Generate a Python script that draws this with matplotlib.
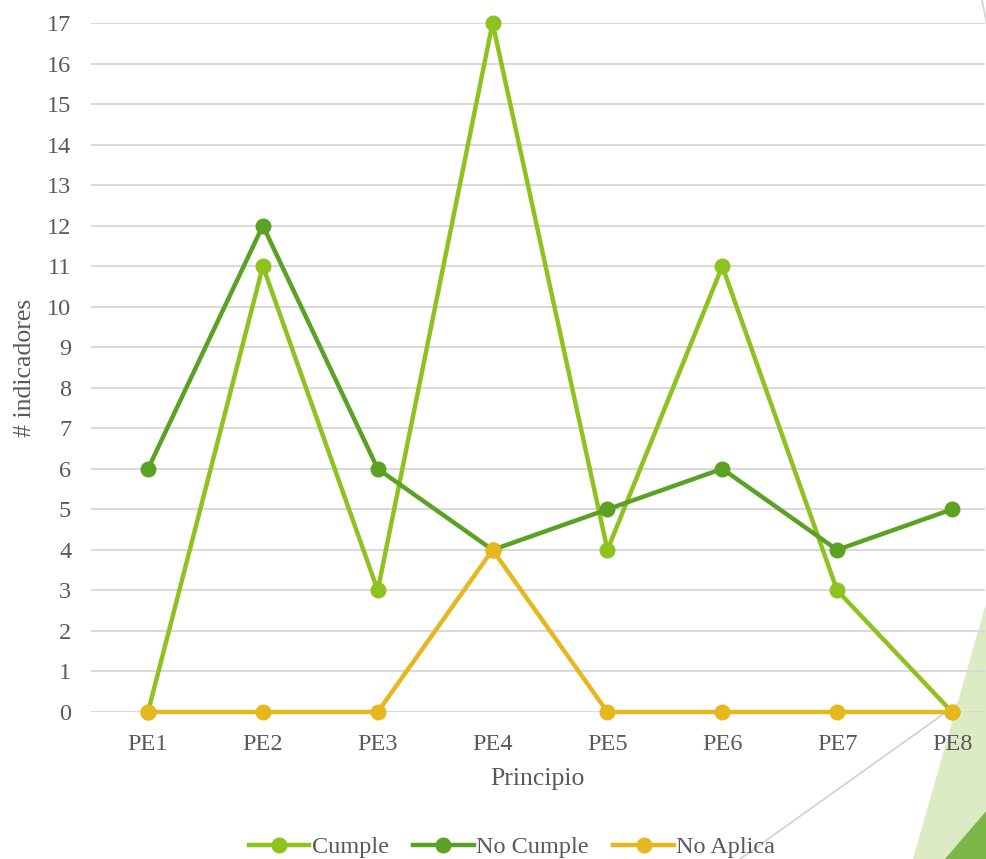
import matplotlib
matplotlib.use("Agg")
import matplotlib.pyplot as plt
from matplotlib.patches import Polygon
from matplotlib.lines import Line2D

categories = ["PE1", "PE2", "PE3", "PE4", "PE5", "PE6", "PE7", "PE8"]
cumple = [0, 11, 3, 17, 4, 11, 3, 0]
no_cumple = [6, 12, 6, 4, 5, 6, 4, 5]
no_aplica = [0, 0, 0, 4, 0, 0, 0, 0]
series_names = ["Cumple", "No Cumple", "No Aplica"]
colors = ["#8DC21F", "#5BA224", "#E6B81E"]

plt.rcParams['font.family'] = ['Liberation Serif', 'DejaVu Serif']
W, H = 987, 859
fig = plt.figure(figsize=(W / 100, H / 100), dpi=100)

def fc(x, y):
    return (x / W, 1 - y / H)

# decorative shapes (behind axes)
fig.patches.append(Polygon([fc(913, 859), fc(987, 600), fc(987, 859)], closed=True,
                           transform=fig.transFigure, facecolor="#DDEBC5", edgecolor="none", zorder=0))
fig.patches.append(Polygon([fc(945, 859), fc(987, 810), fc(987, 859)], closed=True,
                           transform=fig.transFigure, facecolor="#7AB648", edgecolor="none", zorder=0))
for (x0, y0), (x1, y1) in [((740, 859), (987, 683)), ((982, 0), (987, 25))]:
    p0, p1 = fc(x0, y0), fc(x1, y1)
    fig.lines.append(Line2D([p0[0], p1[0]], [p0[1], p1[1]], transform=fig.transFigure,
                            color="#D3D3D3", lw=1.3, zorder=0))

ax_left = 90.6 / W
ax_right = 985 / W
ax_bottom = (H - 712) / H
ax_top = (H - 23) / H
ax = fig.add_axes([ax_left, ax_bottom, ax_right - ax_left, ax_top - ax_bottom])
ax.set_zorder(2)
ax.patch.set_alpha(0)

x = list(range(len(categories)))
for vals, name, c in zip([cumple, no_cumple, no_aplica], series_names, colors):
    ax.plot(x, vals, color=c, lw=3.2, marker="o", markersize=10.5, label=name,
            solid_joinstyle="miter", clip_on=False, zorder=3)

spacing = 114.86
ax.set_xlim(-0.5, 7 + (985 - 952) / spacing)
ax.set_ylim(0, 17)
ax.set_yticks(range(0, 18))
ax.set_xticks(x)
ax.set_xticklabels(categories)
ax.grid(axis="y", color="#D9D9D9", lw=1.4)
ax.set_axisbelow(True)
for s in ax.spines.values():
    s.set_visible(False)
ax.tick_params(length=0, labelsize=17.5, colors="#595959")
ax.tick_params(axis="x", pad=16)
ax.tick_params(axis="y", pad=14)
ax.set_xlabel("Principio", fontsize=18.5, color="#595959", labelpad=9)
ax.set_ylabel("# indicadores", fontsize=18.5, color="#595959", labelpad=8)

fig.legend(loc="center", bbox_to_anchor=(512 / W, 1 - 847 / H), ncol=3, frameon=False,
           fontsize=17.5, handlelength=2.5, handletextpad=0.1, columnspacing=1.0,
           labelcolor="#595959")

fig.savefig("out.png", dpi=100)
